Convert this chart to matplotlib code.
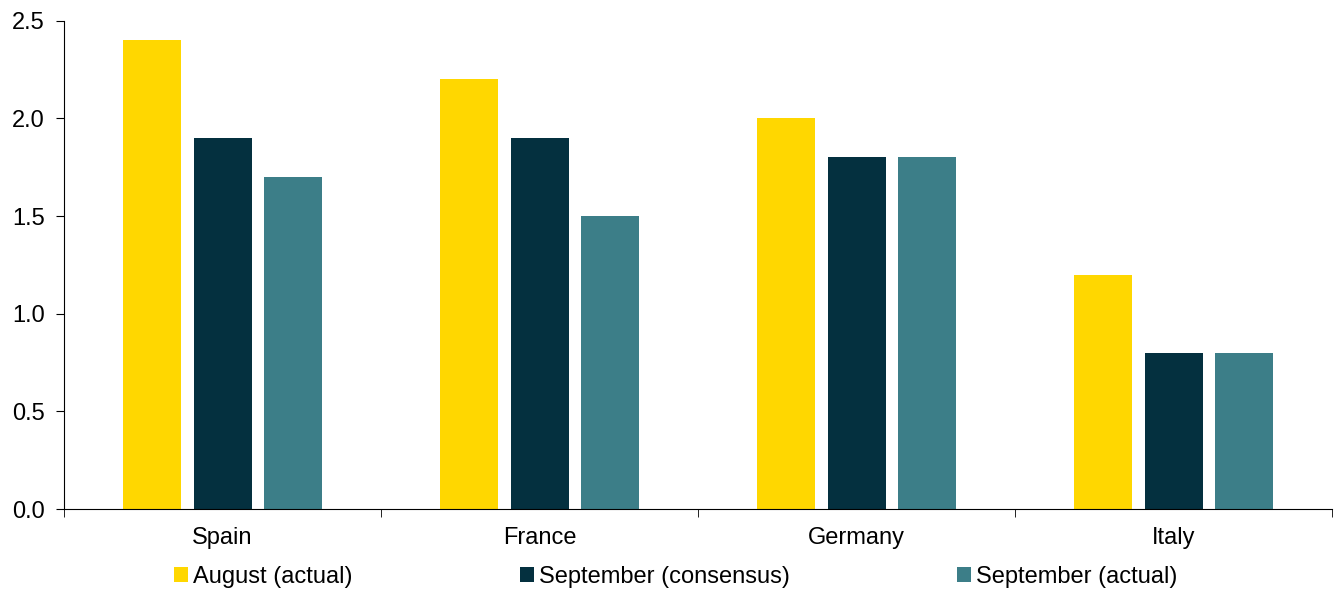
import numpy as np
import matplotlib
matplotlib.use('Agg')
import matplotlib.pyplot as plt

plt.rcParams['font.family'] = ['Liberation Sans', 'DejaVu Sans']

# Data
countries = ['Spain', 'France', 'Germany', 'Italy']
august_actual = [2.4, 2.2, 2.0, 1.2]
sept_consensus = [1.9, 1.9, 1.8, 0.8]
sept_actual = [1.7, 1.5, 1.8, 0.8]
series_names = ['August (actual)', 'September (consensus)', 'September (actual)']
colors = ['#FFD700', '#04303F', '#3C7E88']

fig = plt.figure(figsize=(13.35, 5.9), dpi=100)
ax = fig.add_axes([0.048, 0.137, 0.950, 0.828])

x = np.arange(len(countries))
width = 0.183
offset = 0.222
for i, (vals, name, c) in enumerate(zip([august_actual, sept_consensus, sept_actual], series_names, colors)):
    ax.bar(x + (i - 1) * offset, vals, width, color=c, label=name)

ax.set_xlim(-0.5, len(countries) - 0.5)
ax.set_ylim(0, 2.5)
ax.set_yticks(np.arange(0, 2.51, 0.5))
ax.set_yticklabels([f'{v:.1f}' for v in np.arange(0, 2.51, 0.5)])

# category labels in the middle, tick marks on the group boundaries
ax.set_xticks(x)
ax.set_xticklabels(countries)
ax.tick_params(axis='x', which='major', length=0, pad=13)
ax.set_xticks(np.arange(-0.5, len(countries), 1.0), minor=True)
ax.tick_params(axis='x', which='minor', length=6, direction='out')
ax.tick_params(axis='y', length=6, direction='out', pad=8)
ax.tick_params(labelsize=17)

for s in ['top', 'right']:
    ax.spines[s].set_visible(False)

fig.legend(loc='center', bbox_to_anchor=(0.506, 0.022), ncol=3, frameon=False,
           fontsize=17, handlelength=0.6, handleheight=0.6, handletextpad=0.2,
           columnspacing=7.1)

fig.savefig('out.png', dpi=100)
